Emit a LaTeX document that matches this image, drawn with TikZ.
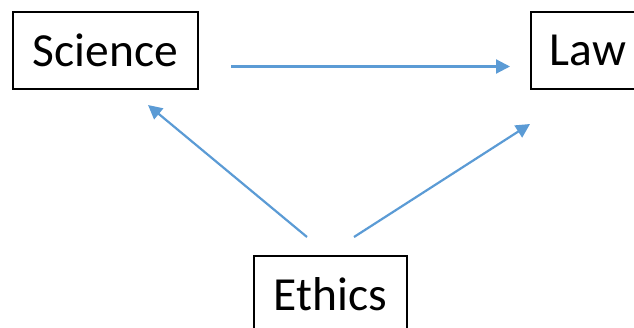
\documentclass[tikz,border=0pt]{standalone}
\usepackage{fontspec}
\setmainfont{Carlito}
\usetikzlibrary{arrows.meta}
\definecolor{arrblue}{RGB}{91,155,213}
\tikzset{
  box/.style={draw=black, line width=1.5pt, fill=white, minimum height=77pt, inner sep=0pt, font=\fontsize{47.5}{56}\selectfont},
  arr/.style={draw=arrblue, line width=2.2pt, -{Triangle[length=14pt,width=14pt]}}
}
\begin{document}
\begin{tikzpicture}[x=1pt,y=-1pt]
\useasboundingbox (0,0) rectangle (634,327);
\clip (0,0) rectangle (634,327);
\node[box, minimum width=185pt] (sci) at (105.5,50.5) {Science};
\node[box, minimum width=114pt] (law) at (588,50.5) {Law};
\node[box, minimum width=153pt] (eth) at (330.5,294.5) {Ethics};
\coordinate (s1) at (231,66.5);
\coordinate (s2) at (510,66.5);
\coordinate (l1) at (307,237);
\coordinate (l2) at (148,105);
\coordinate (r1) at (354,237);
\coordinate (r2) at (530,124);
\draw[arr] (s1) -- (s2);
\draw[arr] (l1) -- (l2);
\draw[arr] (r1) -- (r2);
\end{tikzpicture}
\end{document}
